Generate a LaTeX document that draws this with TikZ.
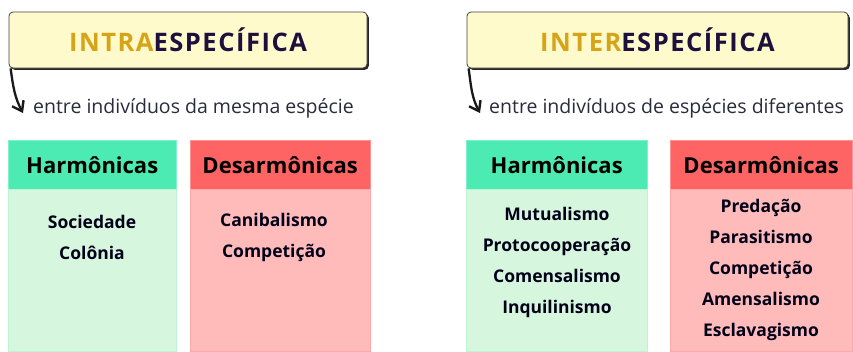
\documentclass[tikz,border=0pt]{standalone}
\usepackage{fontspec}
\setmainfont{Open Sans}
\newfontfamily\spaced[LetterSpace=6]{Open Sans}
\usetikzlibrary{arrows.meta, positioning, shadows}
\definecolor{gold}{HTML}{D6A419}
\definecolor{ink}{HTML}{1E0F3C}
\definecolor{paper}{HTML}{FEFACB}
\definecolor{subink}{HTML}{2B2B3B}
\definecolor{minthd}{HTML}{4DEBB4}
\definecolor{mintbd}{HTML}{D6F7DE}
\definecolor{coralhd}{HTML}{FF6464}
\definecolor{coralbd}{HTML}{FFBABA}

\begin{document}
\begin{tikzpicture}[x=1pt, y=-1pt,
  tt/.style={draw=black!75, fill=paper, rounded corners=4pt, line width=0.8pt,
             minimum height=56pt, inner sep=0pt,
             drop shadow={shadow xshift=1.8pt, shadow yshift=-1.8pt, fill=black!85, opacity=1},
             font=\spaced\bfseries\fontsize{25.5}{28}\selectfont},
  sub/.style={text=subink, anchor=west, inner sep=0pt, font=\fontsize{19.5}{22}\selectfont},
  hd/.style={minimum height=49pt, inner sep=0pt, anchor=north west,
             font=\bfseries\fontsize{22}{26}\selectfont},
  bd/.style={minimum height=162pt, inner sep=0pt, anchor=north},
  it/.style={align=center, text=black!90!blue, inner sep=0pt,
             font=\bfseries\fontsize{17.5}{31}\selectfont},
  ar/.style={-{Straight Barb[length=9pt, width=13pt, line width=2.4pt]}, line width=2.3pt, black!90}]

\useasboundingbox (0,0) rectangle (853,351);

% titles
\node[tt, minimum width=358pt] (intra) at (188,40) {\textcolor{gold}{INTRA}\textcolor{ink}{ESPECÍFICA}};
\node[tt, minimum width=381pt] (inter) at (657.5,40) {\textcolor{gold}{INTER}\textcolor{ink}{ESPECÍFICA}};

\node[sub] (intrasub) at (33,108) {entre indivíduos da mesma espécie};
\node[sub] (intersub) at (489,108) {entre indivíduos de espécies diferentes};

\draw[ar] ([xshift=2pt]intra.south west) to[out=-82, in=118] ([xshift=-10pt, yshift=-5pt]intrasub.west);
\draw[ar] ([xshift=2pt]inter.south west) to[out=-82, in=118] ([xshift=-9pt, yshift=-5pt]intersub.west);

% columns
\node[hd, fill=minthd, draw=minthd!70!white, minimum width=168pt] (h1) at (8,140) {Harmônicas};
\node[bd, fill=mintbd, draw=mintbd!80!minthd, minimum width=168pt] (b1) at (h1.south) {};
\node[hd, fill=coralhd, draw=coralhd!70!white, minimum width=180pt] (h2) at (190,140) {Desarmônicas\hspace{14pt}};
\node[bd, fill=coralbd, draw=coralbd!80!coralhd, minimum width=180pt] (b2) at (h2.south) {};
\node[hd, fill=minthd, draw=minthd!70!white, minimum width=181pt] (h3) at (466,140) {Harmônicas};
\node[bd, fill=mintbd, draw=mintbd!80!minthd, minimum width=181pt] (b3) at (h3.south) {};
\node[hd, fill=coralhd, draw=coralhd!70!white, minimum width=182pt] (h4) at (670,140) {Desarmônicas};
\node[bd, fill=coralbd, draw=coralbd!80!coralhd, minimum width=182pt] (b4) at (h4.south) {};

% lists
\node[it] (l1) at (92,237) {Sociedade\\Colônia};
\node[it] (l2) at (274,237) {Canibalismo\\Competição};
\node[it] (l3) at (557,262) {Mutualismo\\Protocooperação\\Comensalismo\\Inquilinismo};
\node[it] (l4) at (761,270) {Predação\\Parasitismo\\Competição\\Amensalismo\\Esclavagismo};
\end{tikzpicture}
\end{document}
